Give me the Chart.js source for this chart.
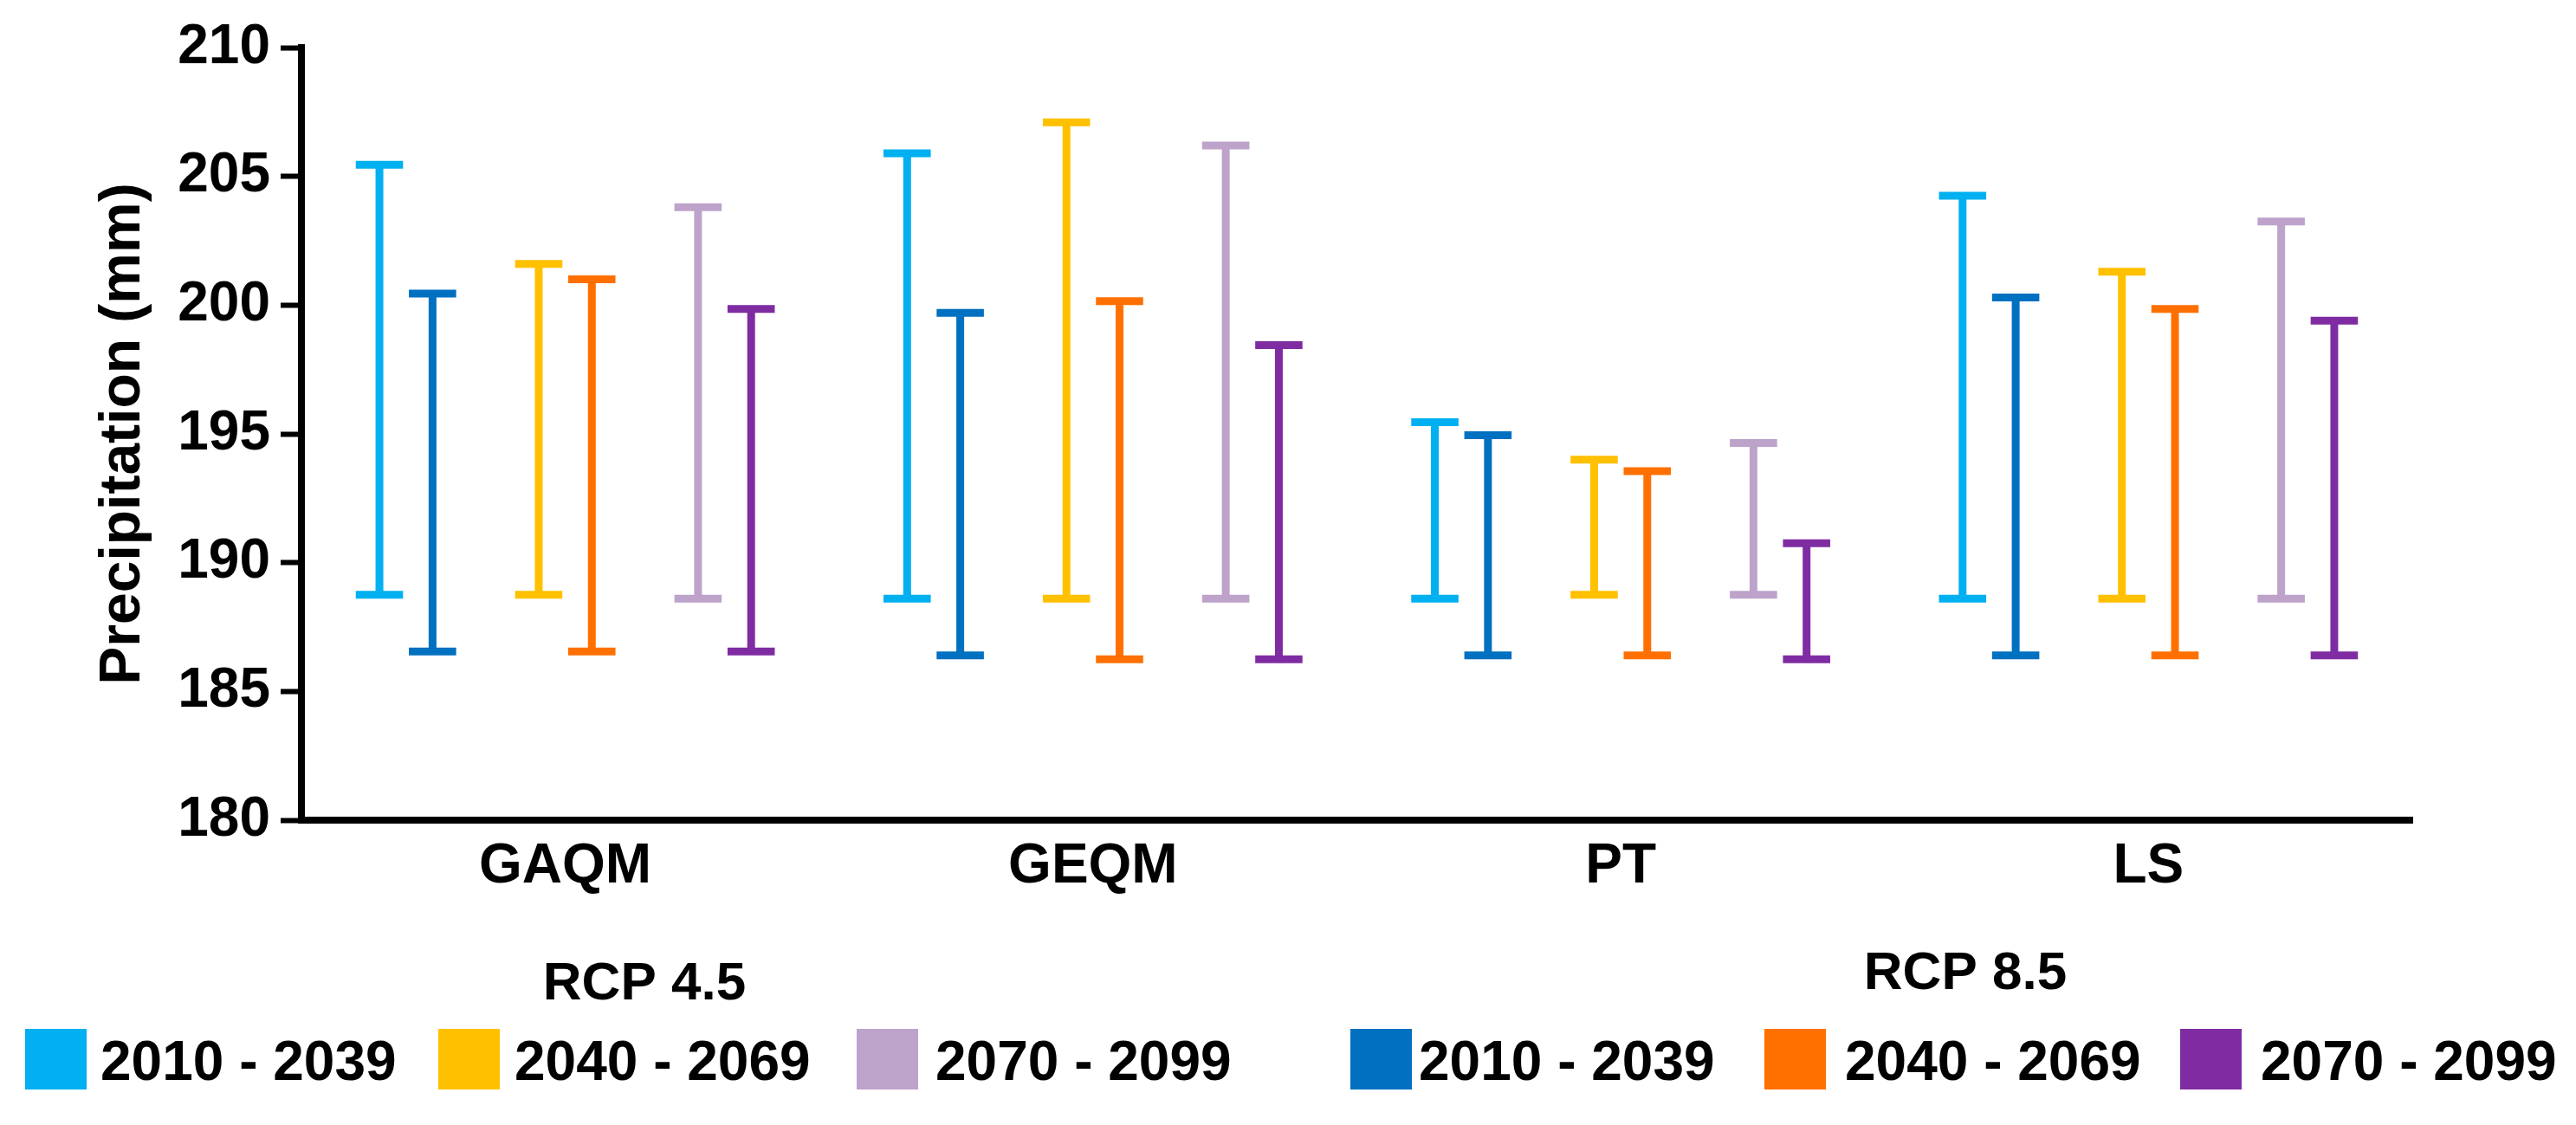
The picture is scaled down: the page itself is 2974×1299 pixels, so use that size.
<!DOCTYPE html>
<html>
<head>
<meta charset="utf-8">
<title>Precipitation ranges</title>
<script src="https://cdn.jsdelivr.net/npm/chart.js@4.4.1/dist/chart.umd.min.js"></script>
<style>
	html, body { margin: 0; padding: 0; background: #fff; }
	#wrap { width: 2974px; height: 1299px; position: relative; }
</style>
</head>
<body>
<div id="wrap"><canvas id="myChart"></canvas></div>
<script>
// categories (bias correction methods)
var methods = ["GAQM", "GEQM", "PT", "LS"];

// min / max per method
var rcp45_2010_low = [188.75, 188.6, 188.6, 188.6];
var rcp45_2010_high = [205.45, 205.9, 195.45, 204.25];
var rcp85_2010_low = [186.55, 186.4, 186.4, 186.4];
var rcp85_2010_high = [200.45, 199.7, 194.95, 200.3];
var rcp45_2040_low = [188.75, 188.6, 188.75, 188.6];
var rcp45_2040_high = [201.6, 207.1, 194.0, 201.3];
var rcp85_2040_low = [186.55, 186.25, 186.4, 186.4];
var rcp85_2040_high = [201.0, 200.15, 193.55, 199.85];
var rcp45_2070_low = [188.6, 188.6, 188.75, 188.6];
var rcp45_2070_high = [203.8, 206.2, 194.65, 203.25];
var rcp85_2070_low = [186.55, 186.25, 186.25, 186.4];
var rcp85_2070_high = [199.85, 198.45, 190.75, 199.4];

var periods = ["2010 - 2039", "2040 - 2069", "2070 - 2099"];
var scenarios = ["RCP 4.5", "RCP 8.5"];
var yTicks = [180, 185, 190, 195, 200, 205, 210];

var colors45 = ["#00B0F0", "#FFC000", "#BDA3CA"];
var colors85 = ["#0070C0", "#FF7000", "#7F2CA2"];

var FONT = "'Liberation Sans', Arial, sans-serif";

function pairs(low, high) {
	return low.map(function (v, i) {
		return [v, high[i]];
	});
}

function whisker(low, high, color) {
	return {
		data: pairs(low, high),
		backgroundColor: "rgba(0,0,0,0)",
		borderWidth: 0,
		whiskerColor: color,
	};
}

// empty slot so the bars come in pairs
function spacer() {
	return { data: methods.map(function () { return null; }), backgroundColor: "rgba(0,0,0,0)" };
}

var datasets = [
	whisker(rcp45_2010_low, rcp45_2010_high, colors45[0]),
	whisker(rcp85_2010_low, rcp85_2010_high, colors85[0]),
	spacer(),
	whisker(rcp45_2040_low, rcp45_2040_high, colors45[1]),
	whisker(rcp85_2040_low, rcp85_2040_high, colors85[1]),
	spacer(),
	whisker(rcp45_2070_low, rcp45_2070_high, colors45[2]),
	whisker(rcp85_2070_low, rcp85_2070_high, colors85[2]),
];

// draws the I-shaped range marks over the (invisible) floating bars
var errorBars = {
	id: "errorBars",
	afterDatasetsDraw: function (chart) {
		var ctx = chart.ctx;
		ctx.save();
		ctx.lineWidth = 9;
		ctx.lineCap = "butt";
		chart.data.datasets.forEach(function (ds, i) {
			if (!ds.whiskerColor) return;
			var meta = chart.getDatasetMeta(i);
			meta.data.forEach(function (bar, j) {
				if (ds.data[j] == null) return;
				var p = bar.getProps(["x", "y", "base", "width"], true);
				var half = p.width / 2;
				ctx.strokeStyle = ds.whiskerColor;
				ctx.beginPath();
				ctx.moveTo(p.x, p.y);
				ctx.lineTo(p.x, p.base);
				ctx.moveTo(p.x - half, p.y);
				ctx.lineTo(p.x + half, p.y);
				ctx.moveTo(p.x - half, p.base);
				ctx.lineTo(p.x + half, p.base);
				ctx.stroke();
			});
		});
		ctx.restore();
	},
};

// two-group legend under the axis
var groupLegend = {
	id: "groupLegend",
	afterDraw: function (chart) {
		var ctx = chart.ctx;
		ctx.save();
		ctx.fillStyle = "#000";
		ctx.textBaseline = "alphabetic";
		ctx.textAlign = "center";
		ctx.font = "bold 62px " + FONT;
		ctx.fillText(scenarios[0], 744, 1154);
		ctx.fillText(scenarios[1], 2269, 1142);

		var swatchX = [29, 506, 989, 1559, 2037, 2517];
		var textX = [116, 594, 1080, 1638, 2130, 2610];
		var cols = colors45.concat(colors85);
		var labs = periods.concat(periods);
		ctx.textAlign = "left";
		ctx.font = "bold 64px " + FONT;
		for (var i = 0; i < cols.length; i++) {
			ctx.fillStyle = cols[i];
			ctx.fillRect(swatchX[i], 1188, 71, 70);
			ctx.fillStyle = "#000";
			ctx.fillText(labs[i], textX[i], 1247);
		}
		ctx.restore();
	},
};

window.onload = function () {
	var myChart = document.querySelector("#myChart").getContext("2d");
	new Chart(myChart, {
		type: "bar",
		data: {
			labels: methods,
			datasets: datasets,
		},
		plugins: [errorBars, groupLegend],
		options: {
			responsive: true,
			maintainAspectRatio: false,
			animation: false,
			layout: { padding: { top: 55, right: 189, bottom: 0, left: 0 } },
			datasets: {
				bar: { categoryPercentage: 0.805, barPercentage: 0.89 },
			},
			plugins: {
				legend: { display: false },
				tooltip: { enabled: false },
			},
			scales: {
				x: {
					grid: { display: false, drawTicks: false },
					border: { display: true, width: 8, color: "#000" },
					ticks: {
						color: "#000",
						padding: 16,
						font: { family: FONT, size: 64, weight: "bold" },
					},
					afterFit: function (scale) {
						scale.height = 352;
					},
				},
				y: {
					min: yTicks[0],
					max: yTicks[yTicks.length - 1],
					afterBuildTicks: function (scale) {
						scale.ticks = yTicks.map(function (v) {
							return { value: v };
						});
					},
					grid: {
						display: true,
						drawOnChartArea: false,
						drawTicks: true,
						tickLength: 24,
						tickWidth: 6,
						tickColor: "#000",
					},
					border: { display: true, width: 8, color: "#000" },
					ticks: {
						color: "#000",
						padding: 12,
						font: { family: FONT, size: 64, weight: "bold" },
					},
					title: {
						display: true,
						text: "Precipitation (mm)",
						color: "#000",
						padding: { top: 103, bottom: 0 },
						font: { family: FONT, size: 66, weight: "bold" },
					},
					afterFit: function (scale) {
						scale.width = 348;
					},
				},
			},
		},
	});
};
</script>
</body>
</html>
